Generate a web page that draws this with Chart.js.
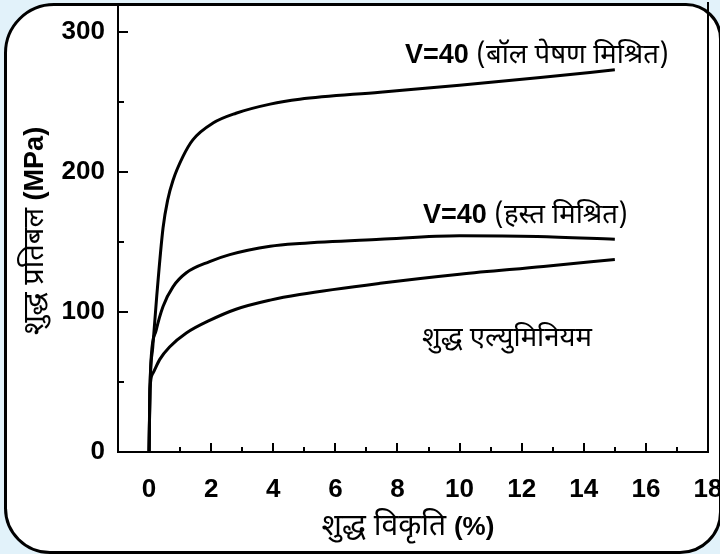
<!DOCTYPE html>
<html>
<head>
<meta charset="utf-8">
<script src="https://cdn.jsdelivr.net/npm/chart.js@4.4.0/dist/chart.umd.min.js"></script>
<style>
  html, body { margin: 0; padding: 0; }
  body { width: 720px; height: 554px; background: #e2f2fa; position: relative; overflow: hidden; }
  #frame {
    position: absolute; left: 4px; top: 3px; width: 718px; height: 551px;
    box-sizing: border-box; background: #fff; border: 3.5px solid #000;
    border-radius: 50px 36px 42px 46px;
  }
  #wrap { position: absolute; left: 0; top: 0; width: 720px; height: 554px; }
</style>
</head>
<body>
<div id="frame"></div>
<div id="wrap"><canvas id="stressChart" width="720" height="554"></canvas></div>
<script>
// strain (%) and stress (MPa)
const ballStrain = [0, 0.03, 0.12, 0.25, 0.45, 0.6, 0.77, 1.09, 1.41, 2.06, 2.8, 3.9, 4.85, 7.44, 10, 12.6, 15];
const ballStress = [0, 45, 75, 112, 160, 180, 194, 211, 223, 235, 242, 248.5, 252, 257, 262, 267.5, 273];

const handStrain = [0, 0.03, 0.07, 0.23, 0.45, 0.77, 1.2, 1.95, 2.6, 3.9, 4.85, 7.44, 10, 12.5, 15];
const handStress = [0, 45, 68, 87, 104, 118, 128, 136, 141, 147, 149, 152, 154.5, 154, 152];

const alStrain = [0, 0.03, 0.12, 0.34, 0.66, 1.2, 1.95, 2.8, 3.9, 4.85, 7.44, 10, 12.7, 15];
const alStress = [0, 45, 56, 66, 75, 85, 94, 102, 108.5, 112.5, 120.5, 127, 132.5, 137.5];

// tick values (labels only on the major ones)
const xTicks = [0, 1, 2, 3, 4, 5, 6, 7, 8, 9, 10, 11, 12, 13, 14, 15, 16, 17, 18];
const xLabelTicks = [0, 2, 4, 6, 8, 10, 12, 14, 16, 18];
const yTicks = [0, 50, 100, 150, 200, 250, 300];
const yLabelTicks = [0, 100, 200, 300];

// text on the chart, [text, bold]
const xTitle = [['शुद्ध विकृति ', false], ['(%)', true]];
const yTitle = [['शुद्ध प्रतिबल ', false], ['(MPa)', true]];
const curveLabels = [
  { x: 8.24, y: 278, parts: [['V=40 ', true], ['(बॉल पेषण मिश्रित)', false]] },
  { x: 8.82, y: 163.5, parts: [['V=40 ', true], ['(हस्त मिश्रित)', false]] },
  { x: 8.79, y: 76, parts: [['शुद्ध एल्युमिनियम', false]] }
];

const latinFont = '"Liberation Sans", Arial, sans-serif';
const hindiFont = '"Noto Sans Devanagari", "Lohit Devanagari", "FreeSans", "Noto Sans", sans-serif';

function toPoints(xs, ys) {
  return xs.map((x, i) => ({ x: x, y: ys[i] }));
}

function fontFor(bold, latinSize, hindiSize) {
  return bold ? 'bold ' + latinSize + 'px ' + latinFont : hindiSize + 'px ' + hindiFont;
}

// draws a list of [text, bold] pieces one after another
function drawParts(ctx, parts, x, y, latinSize, hindiSize) {
  let cx = x;
  parts.forEach(p => {
    ctx.font = fontFor(p[1], latinSize, hindiSize);
    ctx.fillText(p[0], cx, y);
    cx += ctx.measureText(p[0]).width;
  });
}

function partsWidth(ctx, parts, latinSize, hindiSize) {
  let w = 0;
  parts.forEach(p => {
    ctx.font = fontFor(p[1], latinSize, hindiSize);
    w += ctx.measureText(p[0]).width;
  });
  return w;
}

const extras = {
  id: 'extras',
  afterDraw(chart) {
    const ctx = chart.ctx;
    const area = chart.chartArea;
    const xs = chart.scales.x;
    const ys = chart.scales.y;
    ctx.save();
    ctx.strokeStyle = '#000';
    ctx.lineWidth = 2;

    // right edge of the plot box
    ctx.beginPath();
    ctx.moveTo(area.right, area.top - 4);
    ctx.lineTo(area.right, area.bottom);
    ctx.stroke();

    // inward tick marks
    xTicks.forEach(v => {
      const px = Math.round(xs.getPixelForValue(v));
      const len = xLabelTicks.includes(v) ? 9 : 5;
      ctx.beginPath();
      ctx.moveTo(px, area.bottom);
      ctx.lineTo(px, area.bottom - len);
      ctx.stroke();
    });
    yTicks.forEach(v => {
      const py = Math.round(ys.getPixelForValue(v));
      const len = yLabelTicks.includes(v) ? 10 : 6;
      ctx.beginPath();
      ctx.moveTo(area.left, py);
      ctx.lineTo(area.left + len, py);
      ctx.stroke();
    });

    ctx.fillStyle = '#000';
    ctx.textBaseline = 'alphabetic';
    ctx.textAlign = 'left';

    curveLabels.forEach(l => {
      drawParts(ctx, l.parts, xs.getPixelForValue(l.x), ys.getPixelForValue(l.y), 27, 27.5);
    });

    // axis titles
    const xw = partsWidth(ctx, xTitle, 26, 30);
    drawParts(ctx, xTitle, 408 - xw / 2, 535, 26, 30);

    ctx.translate(43, (area.top + area.bottom) / 2 + 2);
    ctx.rotate(-Math.PI / 2);
    const yw = partsWidth(ctx, yTitle, 27, 29);
    drawParts(ctx, yTitle, -yw / 2, 0, 27, 29);
    ctx.restore();
  }
};

function makeSet(label, xs, ys) {
  return {
    label: label,
    data: toPoints(xs, ys),
    borderColor: '#000',
    borderWidth: 3,
    pointRadius: 0,
    showLine: true,
    fill: false,
    cubicInterpolationMode: 'monotone'
  };
}

function noPad(s) {
  s.paddingTop = 0;
  s.paddingBottom = 0;
  s.paddingLeft = 0;
  s.paddingRight = 0;
}

const ctx = document.getElementById('stressChart').getContext('2d');
new Chart(ctx, {
  type: 'scatter',
  data: {
    datasets: [
      makeSet('V=40 (बॉल पेषण मिश्रित)', ballStrain, ballStress),
      makeSet('V=40 (हस्त मिश्रित)', handStrain, handStress),
      makeSet('शुद्ध एल्युमिनियम', alStrain, alStress)
    ]
  },
  options: {
    responsive: false,
    animation: false,
    layout: { padding: { top: 6, right: 12, left: 0, bottom: 0 } },
    scales: {
      x: {
        type: 'linear',
        min: -1,
        max: 18,
        afterFit: s => { s.height = 102; noPad(s); },
        afterBuildTicks: s => { s.ticks = xLabelTicks.map(v => ({ value: v })); },
        grid: { display: false, drawTicks: false },
        border: { display: true, color: '#000', width: 2 },
        ticks: {
          padding: 22,
          color: '#000',
          font: { family: latinFont, size: 26, weight: 'bold' }
        }
      },
      y: {
        min: 0,
        max: 318.6,
        afterFit: s => { s.width = 118; noPad(s); },
        afterBuildTicks: s => { s.ticks = yLabelTicks.map(v => ({ value: v })); },
        grid: { display: false, drawTicks: false },
        border: { display: true, color: '#000', width: 2 },
        ticks: {
          padding: 13,
          color: '#000',
          font: { family: latinFont, size: 26, weight: 'bold' }
        }
      }
    },
    plugins: {
      legend: { display: false },
      tooltip: { enabled: false }
    }
  },
  plugins: [extras]
});
</script>
</body>
</html>
